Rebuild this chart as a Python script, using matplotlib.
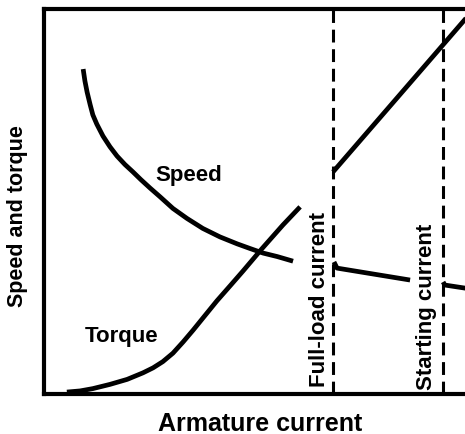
import matplotlib
matplotlib.use("Agg")
from matplotlib import pyplot as plt

plt.rcParams['font.family'] = ['Liberation Sans', 'DejaVu Sans']
plt.rcParams['font.weight'] = 'bold'

# Speed before full-load (series motor falls off as current rises)
speed_x = [8.9, 9.3, 9.8, 10.5, 11.1, 12.0, 13.4, 15.0, 16.6, 18.4, 20.2,
           22.0, 24.1, 26.4, 29.3, 32.5, 36.1, 40.0, 43.9, 46.8, 49.8,
           53.0, 56.6]
speed_y = [84.4, 81.3, 78.4, 75.1, 72.5, 70.1, 67.0, 64.2, 61.8, 59.6, 57.7,
           55.7, 53.5, 51.2, 48.2, 45.6, 43.0, 40.8, 39.0, 37.8, 36.6,
           35.7, 34.5]

# Torque rising with armature current
torque_x = [5.2, 8.2, 11.1, 15.0, 18.9, 22.5, 24.8, 27.0, 29.3, 31.6, 33.9,
            36.1, 39.3, 42.3, 45.2, 49.5, 54.3, 58.2]
torque_y = [0.5, 0.8, 1.4, 2.5, 3.8, 5.5, 6.8, 8.4, 10.6, 13.5, 16.6,
            19.7, 24.2, 28.1, 31.9, 37.7, 43.9, 48.6]

# Segments to the right of the full-load line
rise_x = [65.7, 100.0]
rise_y = [57.7, 103.0]
flat1_x = [65.9, 66.6, 83.2]
flat1_y = [34.3, 32.7, 29.6]
flat2_x = [90.7, 91.1, 95.7, 100.0]
flat2_y = [29.1, 28.3, 27.5, 27.0]

full_load = 65.7
starting = 90.7

fig = plt.figure(figsize=(4.65, 4.35), dpi=100)
ax = fig.add_axes([44 / 465, 40 / 435, 440 / 465, 385 / 435])
ax.set_xlim(0, 100)
ax.set_ylim(0, 100)

style = dict(color='black', lw=3.4, solid_capstyle='butt',
             solid_joinstyle='round')
ax.plot(speed_x, speed_y, **style)
ax.plot(torque_x, torque_y, **style)
ax.plot(rise_x, rise_y, **style)
ax.plot(flat1_x, flat1_y, **style)
ax.plot(flat2_x, flat2_y, **style)

for xv in (full_load, starting):
    ax.axvline(xv, color='black', lw=2.2, dashes=(4.2, 2.2))

ax.text(33.0, 57.1, 'Speed', fontsize=16, ha='center', va='center')
ax.text(17.7, 15.1, 'Torque', fontsize=16, ha='center', va='center')
ax.text(62.5, 2.1, 'Full-load current', fontsize=16, rotation=90,
        ha='center', va='bottom')
ax.text(87.0, 1.3, 'Starting current', fontsize=16, rotation=90,
        ha='center', va='bottom')

for side in ('left', 'bottom', 'top'):
    ax.spines[side].set_linewidth(3.0)
ax.spines['right'].set_visible(False)
ax.set_xticks([])
ax.set_yticks([])

fig.text(260 / 465, 1 - 424 / 435, 'Armature current', fontsize=18,
         ha='center', va='center')
fig.text(18 / 465, 1 - 216 / 435, 'Speed and torque', fontsize=15.5,
         rotation=90, ha='center', va='center')

fig.savefig('out.png', dpi=100)
